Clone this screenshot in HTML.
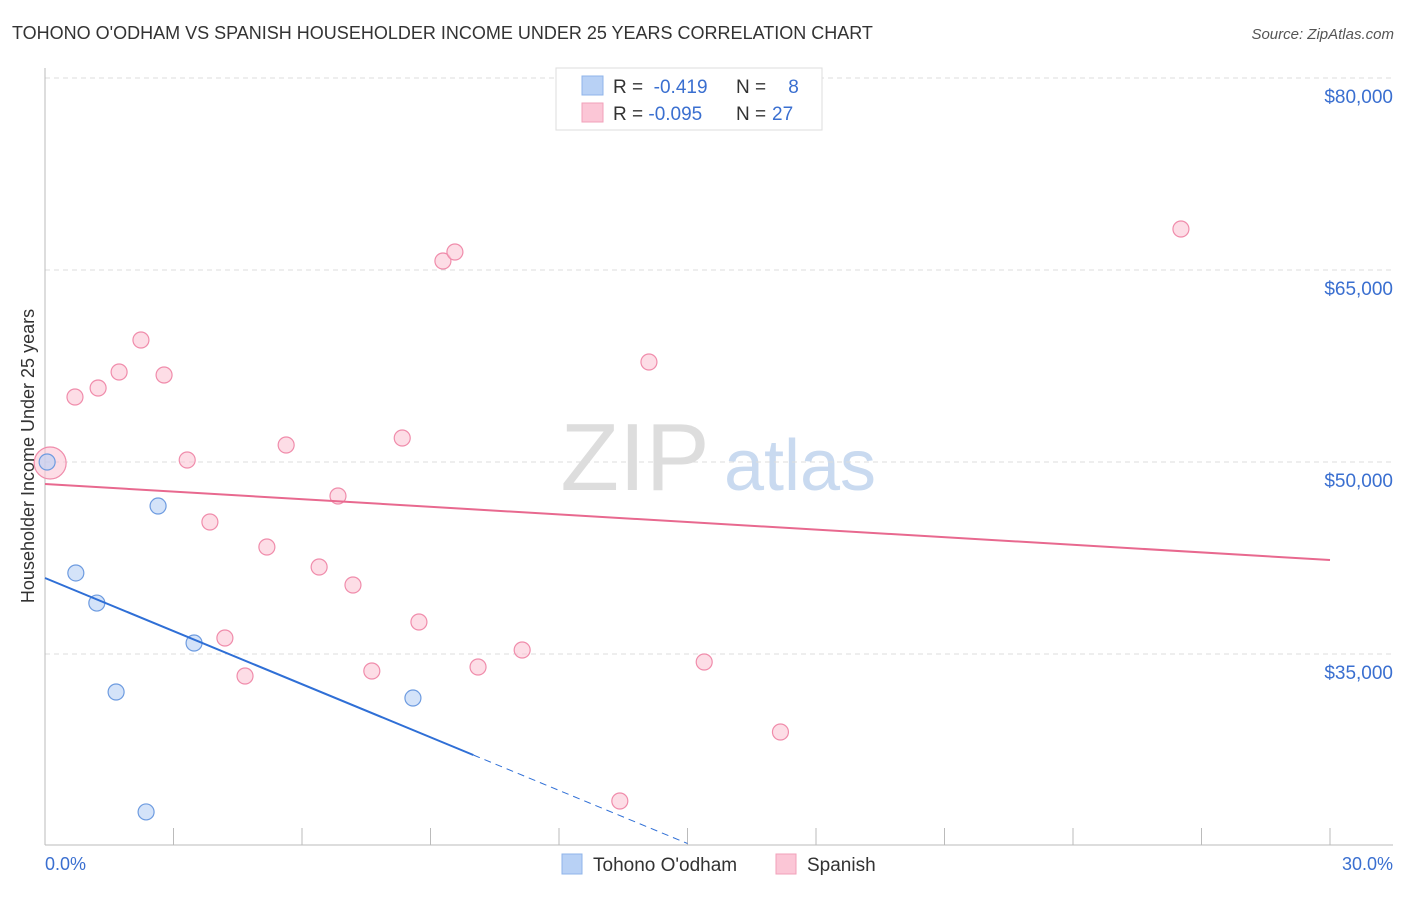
<!DOCTYPE html>
<html><head><meta charset="utf-8"><style>
body{margin:0;background:#fff;font-family:"Liberation Sans",sans-serif;}
svg text{font-family:"Liberation Sans",sans-serif;}
</style></head><body>
<svg width="1406" height="892" xmlns="http://www.w3.org/2000/svg">
<text x="12" y="39" font-size="18" fill="#333">TOHONO O'ODHAM VS SPANISH HOUSEHOLDER INCOME UNDER 25 YEARS CORRELATION CHART</text>
<text x="1394" y="39" font-size="15" fill="#555" font-style="italic" text-anchor="end">Source: ZipAtlas.com</text>
<g>
<text x="635" y="490" font-size="96" fill="#ddd" text-anchor="middle" font-family="Liberation Serif">ZIP</text>
<text x="800" y="490" font-size="72" fill="#c9daf0" text-anchor="middle">atlas</text>
</g>
<g id="grid"></g>
<g id="axes"></g>
<g id="marks"></g>
<text transform="translate(34,456) rotate(-90)" font-size="18" fill="#333" text-anchor="middle">Householder Income Under 25 years</text>
<text x="45" y="870" font-size="18" fill="#3a6fd0">0.0%</text>
<text x="1393" y="870" font-size="18" fill="#3a6fd0" text-anchor="end">30.0%</text>
<g>
<rect x="556" y="68" width="266" height="62" fill="#fff" stroke="#ddd"/>
<rect x="582" y="76" width="21" height="19" fill="#b8d1f5" stroke="#8fb4ea"/>
<rect x="582" y="103" width="21" height="19" fill="#fbc6d6" stroke="#f2a0ba"/>
<text x="613" y="93" font-size="19" fill="#333">R = <tspan fill="#3a6fd0">&#160;-0.419</tspan><tspan x="736">N = </tspan><tspan x="783" fill="#3a6fd0">&#160;8</tspan></text>
<text x="613" y="120" font-size="19" fill="#333">R = <tspan fill="#3a6fd0">-0.095</tspan><tspan x="736">N = </tspan><tspan x="772" fill="#3a6fd0">27</tspan></text>
</g>
<g>
<rect x="562" y="854" width="20" height="20" fill="#b8d1f5" stroke="#8fb4ea"/>
<text x="593" y="871" font-size="19" fill="#333">Tohono O'odham</text>
<rect x="776" y="854" width="20" height="20" fill="#fbc6d6" stroke="#f2a0ba"/>
<text x="807" y="871" font-size="19" fill="#333">Spanish</text>
</g>
<script>
const yTicks=[35000,50000,65000,80000];
const yTickLabels=["$35,000","$50,000","$65,000","$80,000"];
const blueX=[0.05,0.72,1.21,1.66,2.64,3.48,2.36,8.59];
const blueY=[50000,41330,38980,32030,46560,35860,22660,31560];
const pinkX=[0.12,0.70,1.24,1.73,2.24,2.78,3.32,3.85,4.20,4.67,5.18,5.63,6.40,6.84,7.19,7.63,8.34,8.73,9.29,9.57,10.11,11.14,14.10,15.39,17.17,13.42,26.52];
const pinkY=[49922,55078,55781,57031,59531,56797,50156,45313,36250,33281,43359,51328,41797,47344,40391,33672,51875,37500,65703,66406,33984,35313,57813,34375,28906,23516,68203];
const blueTrend=[40938,27110]; // at x=0 and x=10
const blueTrendDashEnd=[10,15];
const pinkTrend=[48281,42344]; // at x=0 and x=30
const NS="http://www.w3.org/2000/svg";
const X=v=>45+v*(1285/30);
const Y=v=>462-(v-50000)*192/15000;
function mk(tag,attrs,parent){const e=document.createElementNS(NS,tag);for(const k in attrs)e.setAttribute(k,attrs[k]);parent.appendChild(e);return e;}
const grid=document.getElementById('grid'),axes=document.getElementById('axes'),marks=document.getElementById('marks');
yTicks.forEach((t,i)=>{
 const l=mk('line',{x1:45,x2:1393,y1:Y(t),y2:Y(t),stroke:'#ddd','stroke-dasharray':'5,4'},grid);
 
 
 const tx=mk('text',{x:1393,y:Y(t)+25,'font-size':19,fill:'#3a6fd0','text-anchor':'end'},grid);
 tx.textContent=yTickLabels[i];
 
 
});
const ya=mk('line',{x1:45,x2:45,y1:68,y2:845,stroke:'#bbb'},axes);


const xa=mk('line',{x1:45,x2:1393,y1:845,y2:845,stroke:'#bbb'},axes);


for(let p=3;p<=30;p+=3){
 const t=mk('line',{x1:X(p),x2:X(p),y1:828,y2:845,stroke:'#bbb'},axes);
 
 
}
function dot(x,y,r,fill,stroke,name){
 const c=mk('circle',{cx:X(x),cy:Y(y),r:r,fill:fill,stroke:stroke,'stroke-width':1.2,'fill-opacity':0.6},marks);
 
 
}
pinkX.forEach((x,i)=>dot(x,pinkY[i],i===0?16:8,'#fbc6d6','#f08cab','spanish-point'));
blueX.forEach((x,i)=>dot(x,blueY[i],8,'#b8d1f5','#6d9be0','tohono-point'));
const slope=(blueTrend[1]-blueTrend[0])/10;
const bl=mk('line',{x1:X(0),y1:Y(blueTrend[0]),x2:X(10),y2:Y(blueTrend[1]),stroke:'#2f6fd6','stroke-width':2},marks);


const bd=mk('line',{x1:X(10),y1:Y(blueTrend[1]),x2:X(blueTrendDashEnd[1]),y2:Y(blueTrend[0]+slope*blueTrendDashEnd[1]),stroke:'#2f6fd6','stroke-width':1,'stroke-dasharray':'7,5'},marks);


const pl=mk('line',{x1:X(0),y1:Y(pinkTrend[0]),x2:X(30),y2:Y(pinkTrend[1]),stroke:'#e8698f','stroke-width':2},marks);


</script>
</svg>
</body></html>
